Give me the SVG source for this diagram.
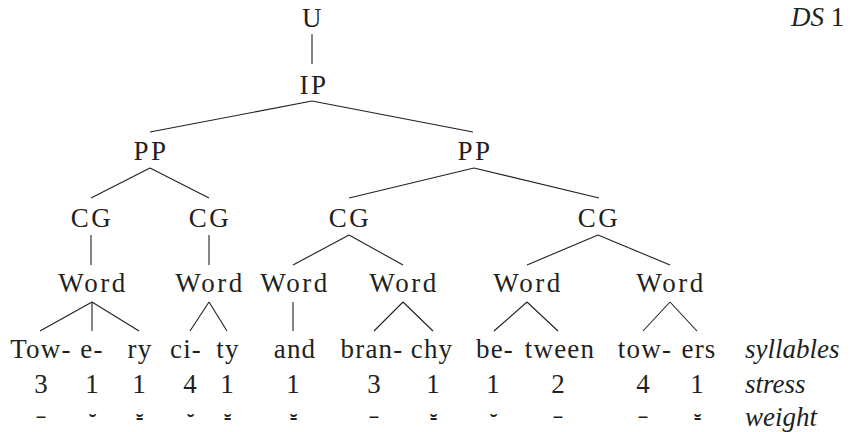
<svg xmlns="http://www.w3.org/2000/svg" width="859" height="432" viewBox="0 0 859 432" font-family="Liberation Serif, DejaVu Serif, serif" font-size="27">
<style>
text{fill:#231f20}
.n{text-anchor:middle;letter-spacing:2.5px}
.s{text-anchor:middle;letter-spacing:1.2px}
.d{text-anchor:middle}
.i{font-style:italic}
.m{text-anchor:middle}
#edges line{stroke:#231f20;stroke-width:1.1}
</style>
<rect width="859" height="432" fill="#fff"/>
<g id="edges">
<line x1="312" y1="34" x2="312" y2="64"/>
<line x1="312" y1="101" x2="150" y2="132"/>
<line x1="312" y1="101" x2="473" y2="132"/>
<line x1="150" y1="168" x2="91" y2="198"/>
<line x1="150" y1="168" x2="209" y2="198"/>
<line x1="474" y1="168" x2="349" y2="198"/>
<line x1="474" y1="168" x2="599" y2="198"/>
<line x1="91" y1="235" x2="91" y2="265"/>
<line x1="209" y1="235" x2="209" y2="265"/>
<line x1="349" y1="235" x2="293" y2="265"/>
<line x1="349" y1="235" x2="403" y2="265"/>
<line x1="598" y1="235" x2="527" y2="265"/>
<line x1="598" y1="235" x2="670" y2="265"/>
<line x1="92" y1="302" x2="40" y2="331"/>
<line x1="92" y1="302" x2="92" y2="331"/>
<line x1="92" y1="302" x2="139" y2="331"/>
<line x1="209" y1="302" x2="190" y2="331"/>
<line x1="209" y1="302" x2="227" y2="331"/>
<line x1="293" y1="302" x2="293" y2="331"/>
<line x1="403" y1="302" x2="374" y2="331"/>
<line x1="403" y1="302" x2="433" y2="331"/>
<line x1="527" y1="302" x2="494" y2="331"/>
<line x1="527" y1="302" x2="558" y2="331"/>
<line x1="670" y1="302" x2="643" y2="331"/>
<line x1="670" y1="302" x2="697" y2="331"/>
</g>
<g id="U"><text class="n" x="313" y="27">U</text></g>
<g id="IP"><text class="n" x="314" y="94">IP</text></g>
<g id="PP1"><text class="n" x="151" y="160">PP</text></g>
<g id="PP2"><text class="n" x="475" y="160">PP</text></g>
<g id="CG1"><text class="n" x="92" y="227">CG</text></g>
<g id="CG2"><text class="n" x="210" y="227">CG</text></g>
<g id="CG3"><text class="n" x="350" y="227">CG</text></g>
<g id="CG4"><text class="n" x="599" y="227">CG</text></g>
<g id="W1"><text class="n" x="93" y="292">Word</text></g>
<g id="W2"><text class="n" x="210" y="292">Word</text></g>
<g id="W3"><text class="n" x="295" y="292">Word</text></g>
<g id="W4"><text class="n" x="404" y="292">Word</text></g>
<g id="W5"><text class="n" x="528" y="292">Word</text></g>
<g id="W6"><text class="n" x="671" y="292">Word</text></g>
<g id="title"><text x="791" y="26"><tspan class="i">DS</tspan> 1</text></g>
<g id="syllables">
<text class="s" x="41" y="358">Tow-</text>
<text class="s" x="92" y="358">e-</text>
<text class="s" x="140" y="358">ry</text>
<text class="s" x="186" y="358">ci-</text>
<text class="s" x="228" y="358">ty</text>
<text class="s" x="295" y="358">and</text>
<text class="s" x="372" y="358">bran-</text>
<text class="s" x="432" y="358">chy</text>
<text class="s" x="495" y="358">be-</text>
<text class="s" x="560" y="358">tween</text>
<text class="s" x="645" y="358">tow-</text>
<text class="s" x="699" y="358">ers</text>
<text class="i" x="745" y="358">syllables</text>
</g>
<g id="stress">
<text class="d" x="41" y="393">3</text>
<text class="d" x="92" y="393">1</text>
<text class="d" x="139" y="393">1</text>
<text class="d" x="190" y="393">4</text>
<text class="d" x="227" y="393">1</text>
<text class="d" x="293" y="393">1</text>
<text class="d" x="374" y="393">3</text>
<text class="d" x="433" y="393">1</text>
<text class="d" x="493" y="393">1</text>
<text class="d" x="558" y="393">2</text>
<text class="d" x="643" y="393">4</text>
<text class="d" x="697" y="393">1</text>
<text class="i" x="745" y="393">stress</text>
</g>
<g id="weight" font-family="DejaVu Sans, sans-serif" font-size="22">
<text class="m" x="41" y="423">–</text>
<text class="m" x="92" y="423">⏑</text>
<text class="m" x="139" y="423">⏓</text>
<text class="m" x="190" y="423">⏑</text>
<text class="m" x="227" y="423">⏓</text>
<text class="m" x="293" y="423">⏓</text>
<text class="m" x="374" y="423">–</text>
<text class="m" x="433" y="423">⏓</text>
<text class="m" x="493" y="423">⏑</text>
<text class="m" x="558" y="423">–</text>
<text class="m" x="643" y="423">–</text>
<text class="m" x="697" y="423">⏓</text>
</g>
<g id="weightlabel"><text class="i" x="745" y="426">weight</text></g>
</svg>
